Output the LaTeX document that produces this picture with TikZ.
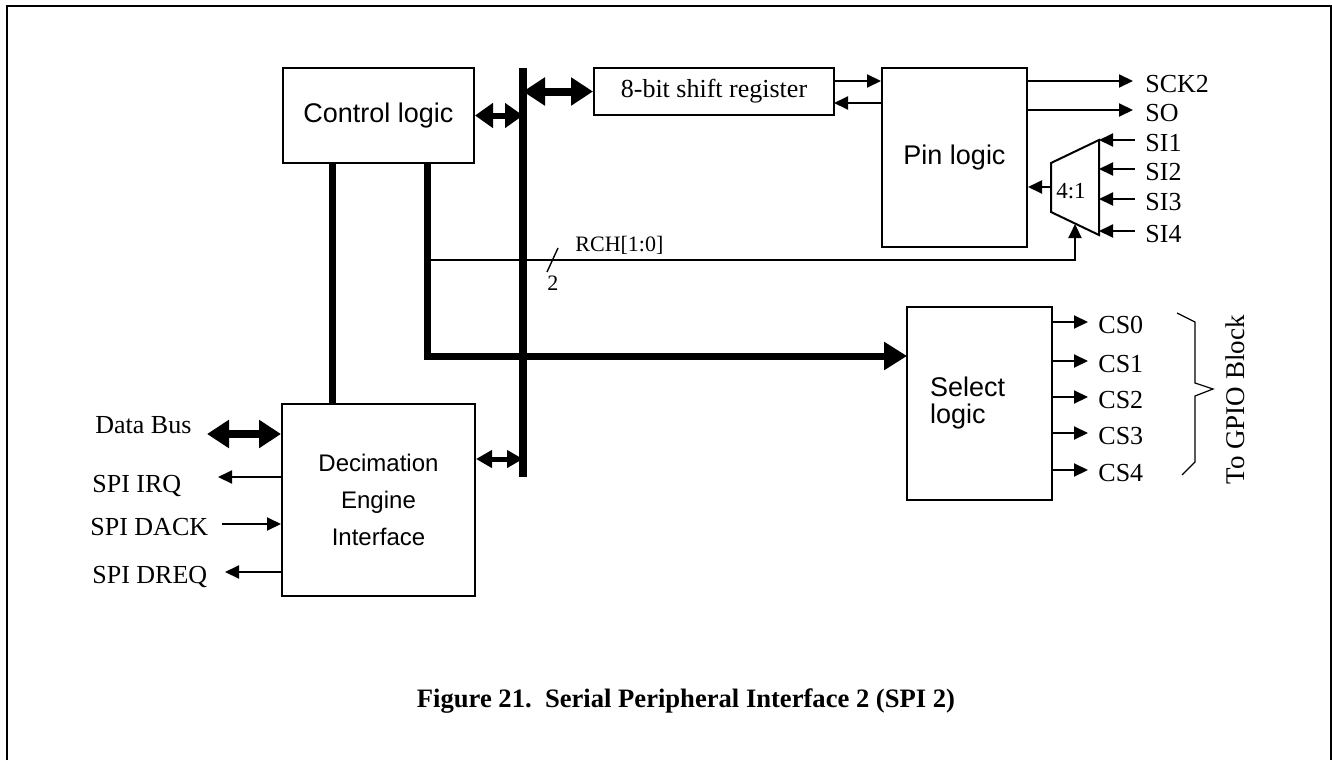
\documentclass[tikz,border=0pt]{standalone}
\usepackage{fontspec}
\setmainfont{Liberation Serif}
\newfontfamily\hv{Liberation Sans}
\usepackage{tikz}
\usetikzlibrary{arrows.meta}

\begin{document}
\begin{tikzpicture}[x=0.5pt,y=-0.5pt,
  blk/.style={draw,line width=1pt,inner sep=0pt,font=\hv\fontsize{13.5}{15}\selectfont},
  lbl/.style={inner sep=0pt,anchor=base west,font=\fontsize{13}{15}\selectfont},
  sml/.style={inner sep=0pt,anchor=base west,font=\fontsize{11}{13}\selectfont},
  sig/.style={line width=1pt,-{Triangle[length=7pt,width=6.5pt]}},
  thk/.style={line width=3.5pt},
  bus/.style={line width=4pt},
  dbl/.style={line width=3pt,{Triangle[length=9pt,width=12pt]}-{Triangle[length=9pt,width=12pt]}},
  dbls/.style={line width=2.5pt,{Triangle[length=8pt,width=8.5pt]}-{Triangle[length=8pt,width=8.5pt]}},
  dblbig/.style={line width=4pt,{Triangle[length=11pt,width=13.5pt]}-{Triangle[length=11pt,width=13.5pt]}}]
\useasboundingbox (0,0) rectangle (1332,760);
% frame
\draw[line width=1pt] (6.5,760) -- (6.5,5.5) -- (1331,5.5) -- (1331,760);

% blocks
\node[blk,minimum width=95.5pt,minimum height=47.5pt] (ctrl) at (378.5,115.5) {Control logic};
\node[blk,minimum width=120pt,minimum height=23.5pt,font=\fontsize{13}{15}\selectfont] (shreg) at (714,91.5) {8-bit shift register};
\node[blk,minimum width=72.5pt,minimum height=89.5pt] (pin) at (954.5,157.5) {Pin logic};
\node[blk,minimum width=96.5pt,minimum height=96pt,align=center,font=\hv\fontsize{12}{18.5}\selectfont] (dec) at (378.5,500) {Decimation\\Engine\\Interface};
\node[blk,minimum width=72.5pt,minimum height=96.5pt,text width=49.5pt,align=left,font=\hv\fontsize{13.5}{13.5}\selectfont] (sel) at (979.5,403.5) {Select\\logic};

% internal bus
\coordinate (bt) at (523,68);
\coordinate (bb) at (523,477);
\draw[dbl] (ctrl.east) -- (ctrl.east -| bt);
\draw[dblbig] (bt |- shreg.west) -- (shreg.west);
\coordinate (db) at (523,459);
\draw[dbls] (dec.east |- db) -- (db);
\draw[bus] (bt) -- (bb);

% shift register <-> pin logic
\coordinate (sr1) at (834,81);
\coordinate (sr2) at (834,103);
\draw[sig] (sr1) -- (sr1 -| pin.west);
\draw[sig] (sr2 -| pin.west) -- (sr2);

% pin outputs
\coordinate (sck) at (1133,81);
\coordinate (so) at (1133,110);
\draw[sig] (pin.east |- sck) -- (sck);
\draw[sig] (pin.east |- so) -- (so);
\node[lbl] (lsck) at (1145,92) {SCK2};
\node[lbl] (lso) at (1145,121) {SO};

% 4:1 mux
\draw[line width=1pt] (1051,163) -- (1099,140) -- (1099,235) -- (1051,212) -- cycle;
\node[inner sep=0pt,anchor=base,font=\fontsize{11.5}{13}\selectfont] (mux) at (1071,198) {4:1};
\coordinate (muxr) at (1099,0);
\coordinate (muxo) at (1051,187);
\coordinate (muxb) at (1075,224);
\draw[sig] (muxo) -- (muxo -| pin.east);
\foreach \i/\y in {1/140,2/169,3/199,4/231} {
  \coordinate (si\i) at (1135,\y);
  \draw[sig] (si\i) -- (si\i -| muxr);
  \node[lbl] (lsi\i) at (1145,\y+11.5) {SI\i};
}

% control lines
\coordinate (ta) at (332,0);
\coordinate (tb) at (427,0);
\coordinate (tsel) at (907,356);
\draw[thk] (ctrl.south -| ta) -- (dec.north -| ta);
\draw[thk,-{Triangle[length=11.5pt,width=13.5pt]}] (ctrl.south -| tb) |- (tsel);
\coordinate (rch) at (427,260);
\draw[sig] (rch) -| (muxb);
\draw[line width=0.7pt] (547,272) -- (558,248);
\node[sml] (lrch) at (575,251) {RCH[1:0]};
\node[sml] (lw) at (547,290) {2};

% chip selects
\foreach \i/\y in {0/322,1/361,2/397,3/433,4/470} {
  \coordinate (cs\i) at (1088,\y);
  \draw[sig] (sel.east |- cs\i) -- (cs\i);
  \node[lbl] (lcs\i) at (1098,\y+11) {CS\i};
}
\draw[line width=0.6pt] (1177,313) -- (1195,322) -- (1195,383) -- (1213,389) -- (1195,396) -- (1195,462) -- (1182,475);
\node[rotate=90,inner sep=0pt,font=\fontsize{13.5}{15}\selectfont] (gpio) at (1235,400) {To GPIO Block};

% host side
\coordinate (dbin) at (207,434);
\coordinate (irq) at (218,477);
\coordinate (dack) at (222,524);
\coordinate (dreq) at (225,572);
\draw[dblbig] (dbin) -- (dbin -| dec.west);
\draw[sig] (irq -| dec.west) -- (irq);
\draw[sig] (dack) -- (dack -| dec.west);
\draw[sig] (dreq -| dec.west) -- (dreq);
\node[lbl] (ldb) at (95,433) {Data Bus};
\node[lbl] (lirq) at (92,492) {SPI IRQ};
\node[lbl] (ldack) at (90,535) {SPI DACK};
\node[lbl] (ldreq) at (92,583) {SPI DREQ};

\node[inner sep=0pt,anchor=base,font=\bfseries\fontsize{13.3}{15}\selectfont] (cap) at (686,707) {Figure 21.\ \ Serial Peripheral Interface 2 (SPI 2)};
\end{tikzpicture}
\end{document}
